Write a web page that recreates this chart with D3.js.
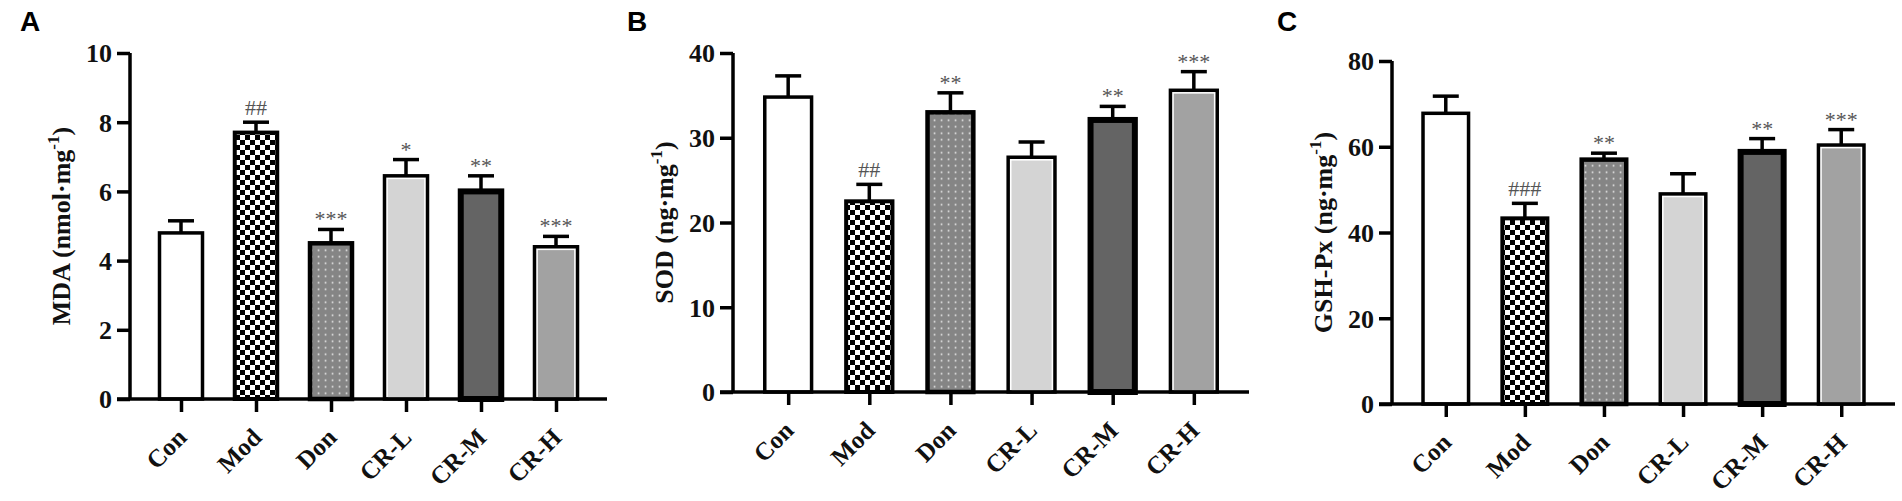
<!DOCTYPE html>
<html>
<head>
<meta charset="UTF-8">
<title>MDA / SOD / GSH-Px</title>
<script src="https://d3js.org/d3.v7.min.js"></script>
<style>
    body, html {
        margin: 0;
        background: #fff;
    }
    .tick-label, .cat-label, .axis-title {
        font-family: "Liberation Serif", "Times New Roman", serif;
        font-weight: bold;
        fill: #111;
    }
    .mark {
        font-family: "Liberation Serif", "Times New Roman", serif;
        fill: #555;
    }
    .panel-letter {
        font-family: "Liberation Sans", Arial, sans-serif;
        font-weight: bold;
        fill: #000;
    }
</style>
</head>
<body>
<div id="chart"></div>
<script>
// groups on the x axis
const categories = ["Con", "Mod", "Don", "CR-L", "CR-M", "CR-H"];

// A: MDA (nmol·mg-1)
const mdaMeans = [4.8, 7.7, 4.5, 6.45, 6.0, 4.4];
const mdaErrors = [0.35, 0.3, 0.4, 0.47, 0.45, 0.3];
const mdaMarks = ["", "##", "***", "*", "**", "***"];
const mdaTicks = [0, 2, 4, 6, 8, 10];

// B: SOD (ng·mg-1)
const sodMeans = [34.8, 22.5, 33.0, 27.7, 32.1, 35.6];
const sodErrors = [2.5, 2.0, 2.3, 1.8, 1.6, 2.2];
const sodMarks = ["", "##", "**", "", "**", "***"];
const sodTicks = [0, 10, 20, 30, 40];

// C: GSH-Px (ng·mg-1)
const gshMeans = [67.8, 43.3, 57.0, 49.0, 58.8, 60.4];
const gshErrors = [4.0, 3.5, 1.5, 4.7, 3.1, 3.6];
const gshMarks = ["", "###", "**", "", "**", "***"];
const gshTicks = [0, 20, 40, 60, 80];

// layout of the three panels (pixels)
const panels = [
    {letter: "A", lx: 20, title: "MDA (nmol·mg", means: mdaMeans, errors: mdaErrors, marks: mdaMarks, ticks: mdaTicks,
     x0: 130, x1: 607, yTop: 53, yZero: 399},
    {letter: "B", lx: 627, title: "SOD (ng·mg", means: sodMeans, errors: sodErrors, marks: sodMarks, ticks: sodTicks,
     x0: 733, x1: 1249, yTop: 53, yZero: 392},
    {letter: "C", lx: 1277, title: "GSH-Px (ng·mg", means: gshMeans, errors: gshErrors, marks: gshMarks, ticks: gshTicks,
     x0: 1392, x1: 1895, yTop: 61, yZero: 404}
];

// look of each group's bar
const barStyle = {
    "Con":  {fill: "#ffffff", sw: 3.5, gap: false},
    "Mod":  {fill: "url(#checker)", sw: 4, gap: false},
    "Don":  {fill: "url(#dots)", sw: 4.5, gap: false},
    "CR-L": {fill: "#d4d4d4", sw: 3.5, gap: true},
    "CR-M": {fill: "#646464", sw: 6, gap: false},
    "CR-H": {fill: "#a2a2a2", sw: 3.5, gap: true}
};

const width = 1902, height = 501;
const svg = d3.select("#chart").append("svg")
    .attr("width", width)
    .attr("height", height);

// fill patterns
const defs = svg.append("defs");
const checker = defs.append("pattern")
    .attr("id", "checker")
    .attr("patternUnits", "userSpaceOnUse")
    .attr("width", 10).attr("height", 10);
checker.append("rect").attr("width", 10).attr("height", 10).attr("fill", "#fff");
checker.append("rect").attr("width", 5).attr("height", 5).attr("fill", "#000");
checker.append("rect").attr("x", 5).attr("y", 5).attr("width", 5).attr("height", 5).attr("fill", "#000");

const dots = defs.append("pattern")
    .attr("id", "dots")
    .attr("patternUnits", "userSpaceOnUse")
    .attr("width", 7).attr("height", 6.5);
dots.append("rect").attr("width", 7).attr("height", 6.5).attr("fill", "#858585");
dots.append("rect").attr("x", 2.7).attr("y", 2.4).attr("width", 1.7).attr("height", 1.7).attr("fill", "#e2e2e2");

const tickLen = 13;

panels.forEach(p => {
    const g = svg.append("g");

    const x = d3.scalePoint()
        .domain(categories)
        .range([p.x0, p.x1])
        .padding(0.68);
    const y = d3.scaleLinear()
        .domain([0, d3.max(p.ticks)])
        .range([p.yZero, p.yTop]);

    const bw = x.step() * 0.62;
    const data = categories.map((c, i) => ({cat: c, mean: p.means[i], err: p.errors[i], mark: p.marks[i]}));

    // bars
    const bars = g.selectAll(".bar").data(data).enter().append("g");
    bars.each(function(d) {
        const s = barStyle[d.cat];
        const el = d3.select(this);
        const bx = x(d.cat) - bw / 2 + s.sw / 2;
        const by = y(d.mean);
        const bwi = bw - s.sw;
        const bh = p.yZero - by;
        el.append("rect")
            .attr("x", bx).attr("y", by)
            .attr("width", bwi).attr("height", bh)
            .attr("fill", s.gap ? "#fff" : s.fill)
            .attr("stroke", "#000")
            .attr("stroke-width", s.sw);
        if (s.gap) {
            const inset = s.sw / 2 + 1.6;
            el.append("rect")
                .attr("x", bx + inset).attr("y", by + inset)
                .attr("width", bwi - 2 * inset).attr("height", bh - inset - 1.5)
                .attr("fill", s.fill);
        }
    });

    // error bars
    bars.append("line")
        .attr("x1", d => x(d.cat)).attr("x2", d => x(d.cat))
        .attr("y1", d => y(d.mean)).attr("y2", d => y(d.mean + d.err))
        .attr("stroke", "#000").attr("stroke-width", 3.5);
    bars.append("line")
        .attr("x1", d => x(d.cat) - 13).attr("x2", d => x(d.cat) + 13)
        .attr("y1", d => y(d.mean + d.err)).attr("y2", d => y(d.mean + d.err))
        .attr("stroke", "#000").attr("stroke-width", 3.5);

    // significance marks
    bars.filter(d => d.mark).append("text")
        .attr("class", "mark")
        .attr("x", d => x(d.cat))
        .attr("y", d => y(d.mean + d.err) - (d.mark.includes("#") ? 7 : 3))
        .attr("text-anchor", "middle")
        .attr("font-size", 22)
        .text(d => d.mark);

    // y axis
    const yAxis = g.append("g")
        .attr("transform", `translate(${p.x0},0)`)
        .call(d3.axisLeft(y).tickValues(p.ticks).tickSize(tickLen).tickPadding(5).tickFormat(d3.format("d")));
    yAxis.select(".domain")
        .attr("d", `M0,${p.yTop}V${p.yZero}`)
        .attr("stroke", "#000").attr("stroke-width", 3.5);
    yAxis.selectAll(".tick line").attr("stroke", "#000").attr("stroke-width", 3.5);
    yAxis.selectAll(".tick text")
        .attr("class", "tick-label")
        .attr("font-size", 26)
        .attr("dy", "0.34em");

    // x axis
    const xAxis = g.append("g")
        .attr("transform", `translate(0,${p.yZero})`)
        .call(d3.axisBottom(x).tickSize(tickLen).tickFormat(""));
    xAxis.select(".domain")
        .attr("d", `M${p.x0 - tickLen},0H${p.x1}`)
        .attr("stroke", "#000").attr("stroke-width", 3.5);
    xAxis.selectAll(".tick line").attr("stroke", "#000").attr("stroke-width", 3.5);

    g.selectAll(".cat-label").data(categories).enter().append("text")
        .attr("class", "cat-label")
        .attr("font-size", 25)
        .attr("text-anchor", "end")
        .attr("transform", d => `translate(${x(d) + 7},${p.yZero + 40}) rotate(-45)`)
        .text(d => d);

    // y axis title with superscript
    const title = g.append("text")
        .attr("class", "axis-title")
        .attr("font-size", 26)
        .attr("text-anchor", "middle")
        .attr("transform", `translate(${p.x0 - 60},${(p.yTop + p.yZero) / 2}) rotate(-90)`);
    title.append("tspan").text(p.title);
    title.append("tspan").attr("font-size", 17).attr("dy", -11).text("-1");
    title.append("tspan").attr("dy", 11).text(")");

    // panel letter
    g.append("text")
        .attr("class", "panel-letter")
        .attr("x", p.lx).attr("y", 31)
        .attr("font-size", 28)
        .text(p.letter);
});
</script>
</body>
</html>
